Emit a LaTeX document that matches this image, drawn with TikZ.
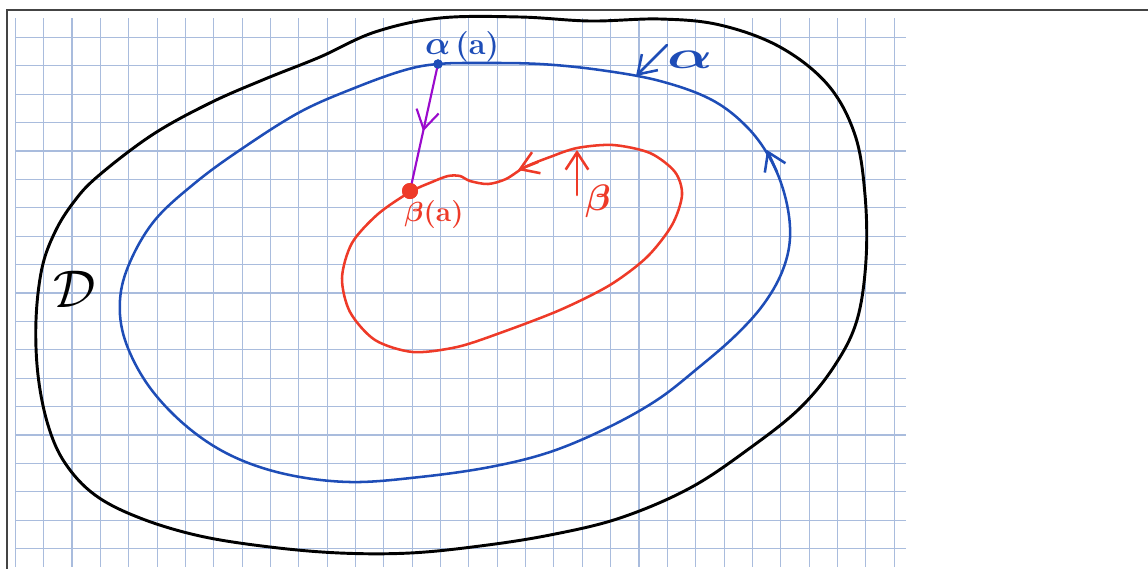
\documentclass[tikz,border=0pt]{standalone}
\usetikzlibrary{arrows.meta,decorations.markings}
\definecolor{gridblue}{HTML}{A9BCDD}
\definecolor{framegray}{HTML}{444444}
\definecolor{alphablue}{HTML}{1E4DB7}
\definecolor{betared}{HTML}{EE3A28}
\definecolor{pathpurple}{HTML}{9A0ACC}

\begin{document}
\begin{tikzpicture}[
  x=0.75pt, y=-0.75pt,
  gridline/.style={draw=gridblue, line width=0.8pt},
  curveD/.style={draw=black, line width=2.2pt, line join=round},
  curvealpha/.style={draw=alphablue, line width=1.9pt, line join=round},
  curvebeta/.style={draw=betared, line width=1.9pt, line join=round},
  barb/.style={-{Straight Barb[length=13pt, width=17pt]}, line cap=round},
  midbarb/.style={postaction={decorate}, decoration={markings,
      mark=at position 0.53 with {\arrow{Straight Barb[length=14pt, width=17pt]}}}},
  hand/.style={inner sep=0pt}
]
  \useasboundingbox (0,0) rectangle (1148,569);

  % ==================== PAPER ====================
  \foreach \i in {0,...,31}
    \draw[gridline] ({15.3+28.35*\i},18) -- ({15.3+28.35*\i},567);
  \foreach \j in {0,...,18}
    \draw[gridline] (15,{37.4+28.4*\j}) -- (906,{37.4+28.4*\j});
  \draw[framegray, line width=0.9pt] (1148,10) -- (7,10) -- (7,569);

  % ==================== DOMAIN D ====================
  \draw[curveD] plot[smooth cycle, tension=0.6] coordinates {
    (97,177) (152,135) (210,103) (265,79) (320,57) (375,32) (440,18)
    (520,17) (590,21) (660,19) (720,25) (780,47) (828,85) (855,135)
    (865,195) (866,260) (857,320) (835,365) (800,408) (750,448) (690,488)
    (620,518) (550,535) (480,546) (410,553) (340,553) (270,547) (200,536)
    (140,518) (95,495) (65,463) (48,425) (38,375) (36,320) (42,268)
    (55,232) (73,203)};
  \node[hand, font=\Huge, scale=1.6] (labD) at (75,289) {$\mathcal{D}$};

  % ==================== LOOP ALPHA ====================
  \draw[curvealpha] plot[smooth cycle, tension=0.6] coordinates {
    (240,150) (300,112) (357,87) (405,70) (438,64) (480,63) (540,64)
    (600,70) (660,81) (712,100) (748,128) (772,162) (786,200) (790,238)
    (782,272) (763,305) (735,336) (698,368) (657,400) (607,428) (550,452)
    (490,467) (420,477) (350,482) (285,474) (230,455) (185,425) (148,385)
    (125,340) (120,300) (130,262) (155,220) (195,183)};
  \draw[alphablue, line width=1.9pt, barb] (777,172) -- (767,150);

  \node[circle, fill=alphablue, inner sep=0pt, minimum size=7pt] (alphaA) at (438,64) {};
  \node[hand, text=alphablue, font=\fontsize{23}{26}\selectfont\boldmath] (labalphaA) at (462,47) {$\alpha$\,\textbf{(a)}};

  \node[hand, text=alphablue, font=\LARGE\boldmath, xscale=2.6, yscale=1.7] (labalpha) at (690,60) {$\alpha$};
  \coordinate (alphaTip) at (636,76);
  \draw[alphablue, line width=1.9pt, barb] (667,45) -- (alphaTip);

  % ==================== LOOP BETA ====================
  \draw[curvebeta] plot[smooth cycle, tension=0.5] coordinates {
    (410,192) (432,182) (448,176) (460,176) (470,181) (488,184) (506,179)
    (525,167) (550,157) (577,148) (613,145) (650,153) (675,172) (682,195)
    (672,225) (647,257) (610,285) (560,310) (500,333) (457,347) (413,352)
    (375,340) (350,312) (342,278) (352,243) (378,214)};
  \draw[betared, line width=1.9pt, barb] (538,162) -- (518,170);

  \node[circle, fill=betared, inner sep=0pt, minimum size=12pt] (betaA) at (410,191) {};
  \node[hand, text=betared, font=\fontsize{21}{24}\selectfont\boldmath] (labbetaA) at (434,215) {$\beta$\textbf{(a)}};

  \node[hand, text=betared, font=\LARGE\boldmath, scale=1.6] (labbeta) at (598,201) {$\beta$};
  \coordinate (betaTip) at (577,150);
  \draw[betared, line width=1.9pt, barb] (577,195) -- (betaTip);

  % ==================== STRAIGHT PATH alpha(a) -> beta(a) ====================
  \draw[pathpurple, line width=1.6pt, midbarb] (alphaA.center) -- (betaA.center);
  \node[circle, fill=alphablue, inner sep=0pt, minimum size=7pt] at (alphaA) {};
  \node[circle, fill=betared, inner sep=0pt, minimum size=12pt] at (betaA) {};

\end{tikzpicture}
\end{document}
